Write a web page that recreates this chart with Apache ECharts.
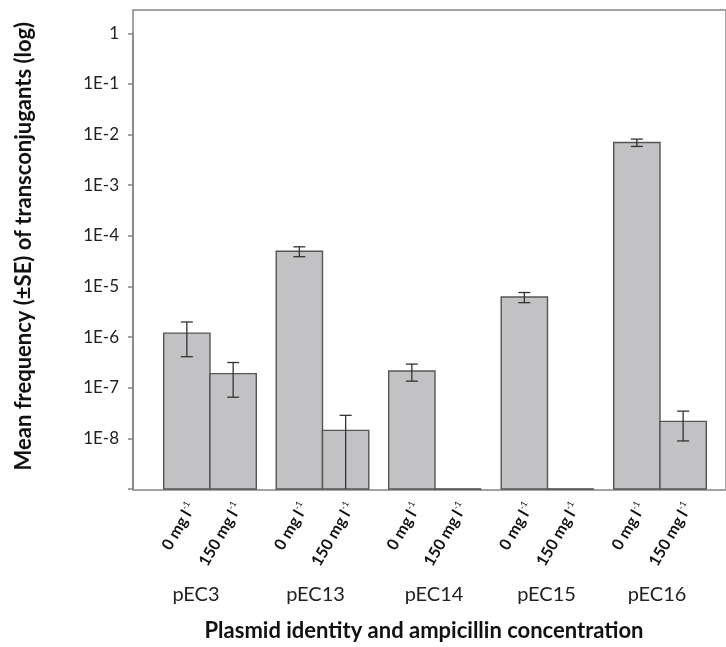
<!DOCTYPE html>
<html><head><meta charset="utf-8">
<script src="https://cdn.jsdelivr.net/npm/echarts@6/dist/echarts.min.js"></script>
<style>html,body{margin:0;padding:0;background:#fff}#c{width:726px;height:647px}</style>
</head><body><div id="c"></div>
<script>
// ---- data ----
const plasmids = ['pEC3', 'pEC13', 'pEC14', 'pEC15', 'pEC16'];
const concLabels = ['0 mg l', '150 mg l'];
const concSup = '-1';
const mean0   = [1.20e-6, 4.97e-5, 2.14e-7, 6.19e-6, 6.98e-3];
const se0     = [0.79e-6, 1.10e-5, 0.79e-7, 1.40e-6, 1.15e-3];
const mean150 = [1.90e-7, 1.44e-8, 0, 0, 2.17e-8];
const se150   = [1.25e-7, 1.41e-8, 0, 0, 1.28e-8];
const yTickValues = [1e-8, 1e-7, 1e-6, 1e-5, 1e-4, 1e-3, 1e-2, 1e-1, 1];
const yTickLabels = ['1E-8', '1E-7', '1E-6', '1E-5', '1E-4', '1E-3', '1E-2', '1E-1', '1'];

// ---- build ----
const Y_MIN = 1e-9, Y_MAX = 1;
const BAR_W = 46.3;
const FONT = 'Lato, "Open Sans", sans-serif';
const labelShift = [-14, -7, -1, -1, -3];
const rows = [];
plasmids.forEach((p, i) => {
  rows.push([i, 0, mean0[i], se0[i]]);
  rows.push([i, 1, mean150[i], se150[i]]);
});

function fmtY(v) {
  const lv = Math.log10(v);
  for (let i = 0; i < yTickValues.length; i++) {
    if (Math.abs(lv - Math.log10(yTickValues[i])) < 1e-6) return yTickLabels[i];
  }
  return '';
}

const xRich = {};
plasmids.forEach((p, i) => {
  const s = labelShift[i];
  xRich['p' + i] = { fontFamily: FONT, fontSize: 20, color: '#222',
    padding: s < 0 ? [0, -2 * s, 0, 0] : [0, 0, 0, 2 * s] };
});

function renderItem(params, api) {
  const gi = api.value(0), sub = api.value(1), m = api.value(2), se = api.value(3);
  const base = api.coord([gi, Y_MIN]);
  const x0 = base[0] + (sub === 0 ? -BAR_W : 0);
  const xc = x0 + BAR_W / 2;
  const children = [];
  const errStyle = { stroke: '#333', lineWidth: 1.3 };
  const cap = 6;
  if (m > 0) {
    const top = api.coord([gi, m])[1];
    children.push({ type: 'rect', shape: { x: x0, y: top, width: BAR_W, height: base[1] - top },
      style: { fill: '#c2c2c4', stroke: '#555', lineWidth: 1.4 } });
    const yHi = api.coord([gi, m + se])[1];
    const lo = m - se;
    const hasLo = lo > Y_MIN;
    const yLo = hasLo ? api.coord([gi, lo])[1] : base[1];
    children.push({ type: 'line', shape: { x1: xc, y1: yHi, x2: xc, y2: yLo }, style: errStyle });
    children.push({ type: 'line', shape: { x1: xc - cap, y1: yHi, x2: xc + cap, y2: yHi }, style: errStyle });
    if (hasLo) children.push({ type: 'line', shape: { x1: xc - cap, y1: yLo, x2: xc + cap, y2: yLo }, style: errStyle });
  } else {
    children.push({ type: 'line', shape: { x1: x0, y1: base[1], x2: x0 + BAR_W, y2: base[1] },
      style: { stroke: '#444', lineWidth: 1.6 } });
  }
  children.push({
    type: 'text', x: xc + 5, y: base[1] + 15, rotation: Math.PI / 3,
    style: {
      text: '{a|' + concLabels[sub] + '}{s|' + concSup + '}',
      align: 'right', verticalAlign: 'middle',
      rich: {
        a: { fontFamily: FONT, fontWeight: 'bold', fontSize: 16, fill: '#111', lineHeight: 18 },
        s: { fontFamily: FONT, fontSize: 9, fill: '#111', verticalAlign: 'top', lineHeight: 10 }
      }
    }
  });
  return { type: 'group', children };
}

const chart = echarts.init(document.getElementById('c'), null, { renderer: 'canvas' });
chart.setOption({
  animation: false,
  backgroundColor: '#fff',
  grid: [
    { left: 153.75, top: 33.3, width: 562.5, height: 456.7 },
    { left: 133, top: 10, width: 700, height: 480, show: true, borderColor: '#858585', borderWidth: 1.5, backgroundColor: 'transparent' }
  ],
  xAxis: [
    { type: 'category', gridIndex: 0, data: plasmids,
      axisLine: { show: false }, axisTick: { show: false },
      axisLabel: { interval: 0, hideOverlap: false, margin: 106, verticalAlign: 'middle', fontFamily: FONT, fontSize: 20, color: '#222',
        formatter: (v, i) => '{p' + i + '|' + v + '}', rich: xRich },
      name: 'Plasmid identity and ampicillin concentration', nameLocation: 'middle', nameGap: 142,
      nameTextStyle: { fontFamily: FONT, fontWeight: 'bold', fontSize: 22, color: '#111', verticalAlign: 'middle', padding: [0, 22, 0, 0] } },
    { type: 'value', gridIndex: 1, show: false, min: 0, max: 1 }
  ],
  yAxis: [
    { type: 'log', logBase: 10, gridIndex: 0, min: Y_MIN, max: Y_MAX, offset: 20.75,
      axisLine: { show: true, lineStyle: { color: '#858585', width: 1.5 } },
      axisTick: { show: true, length: 5, lineStyle: { color: '#858585', width: 1.5 } },
      splitLine: { show: false },
      axisLabel: { formatter: fmtY, margin: 14, fontFamily: FONT, fontSize: 17, color: '#222' },
      name: 'Mean frequency (\u00b1SE) of transconjugants (log)', nameLocation: 'middle', nameGap: 109,
      nameTextStyle: { fontFamily: FONT, fontWeight: 'bold', fontSize: 22, color: '#111', verticalAlign: 'middle', padding: [0, 0, 0, 30] } },
    { type: 'value', gridIndex: 1, show: false, min: 0, max: 1 }
  ],
  series: [{
    type: 'custom', xAxisIndex: 0, yAxisIndex: 0, clip: false,
    encode: { x: 0, y: 2 },
    data: rows,
    renderItem
  }]
});
</script>
</body></html>
